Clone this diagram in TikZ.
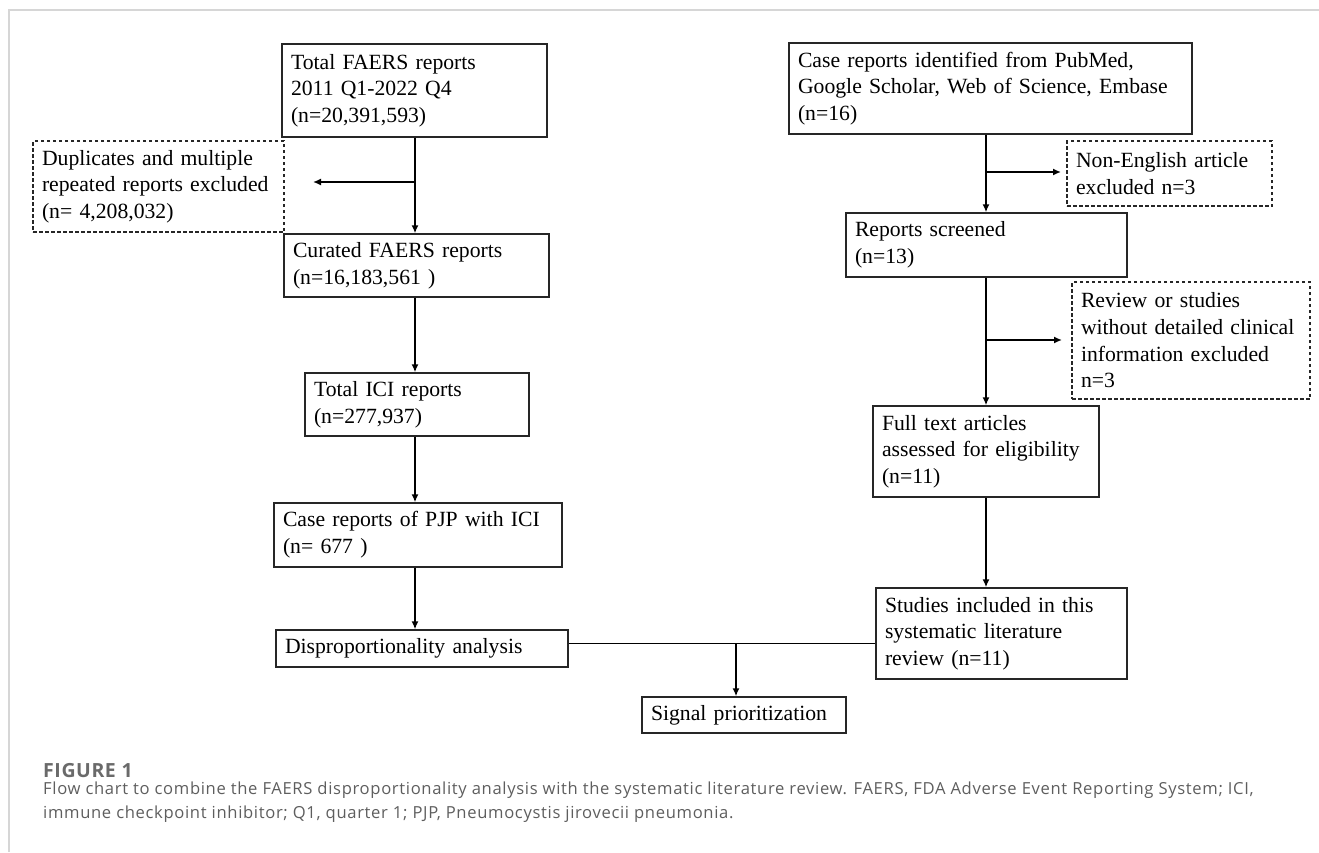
\documentclass[tikz,border=0pt]{standalone}
\usepackage{fontspec}
\setmainfont{Liberation Serif}
\newfontfamily\capfont[LetterSpace=4]{Open Sans}
\newfontfamily\figfont[LetterSpace=3]{Open Sans}
\usetikzlibrary{arrows.meta}
\definecolor{capgrey}{HTML}{5E5E5E}
\definecolor{figgrey}{HTML}{6A6A6A}
\definecolor{framegrey}{HTML}{D6D6D6}
\tikzset{
  x=1pt, y=-1pt,
  boxbase/.style={draw=black!85, line width=1.4pt, inner xsep=9pt, inner ysep=0pt,
     align=left, font=\fontsize{21.7}{26.7}\selectfont, anchor=center},
  solidbox/.style={boxbase},
  dashbox/.style={boxbase, line width=1.1pt, dash pattern=on 3.5pt off 2.5pt},
  arr/.style={line width=1.5pt, -{Latex[length=8pt,width=7pt]}},
  ln/.style={line width=1.5pt},
  captext/.style={anchor=base west, inner sep=0pt, font=\capfont\fontsize{16.6}{22}\selectfont, text=capgrey},
}
\newcommand{\bx}[7]{% style, name, cx, cy, w, h, text
  \node[#1, minimum width=#5pt, minimum height=#6pt, text width=#5pt-18pt] (#2) at (#3,#4) {#7};}
\begin{document}
\begin{tikzpicture}
\useasboundingbox (0,0) rectangle (1319,852);
\draw[framegrey, line width=2pt] (9,852) -- (9,10) -- (1319,10);

% left column
\bx{solidbox}{faers}{414.5}{90.5}{265}{93}{Total FAERS reports\\2011 Q1-2022 Q4\\(n=20,391,593)}
\bx{dashbox}{dup}{158.5}{186.5}{251}{91}{Duplicates and multiple\\repeated reports excluded\\(n= 4,208,032)}
\bx{solidbox}{cur}{416.5}{265.5}{265}{63}{Curated FAERS reports\\(n=16,183,561 )}
\bx{solidbox}{ici}{417}{404.5}{224}{63}{Total ICI reports\\(n=277,937)}
\bx{solidbox}{pjp}{418}{535}{288}{64}{Case reports of PJP with ICI\\(n= 677 )}
\bx{solidbox}{dis}{422}{648.5}{292}{37}{Disproportionality analysis}
\bx{solidbox}{sig}{744}{715}{204}{36}{Signal prioritization}

% right column
\bx{solidbox}{case}{990.5}{88.5}{403}{91}{Case reports identified from PubMed,\\Google Scholar, Web of Science, Embase\\(n=16)}
\bx{dashbox}{noneng}{1169.5}{173.5}{205}{65}{Non-English article\\excluded n=3}
\bx{solidbox}{scr}{986.5}{245}{281}{64}{Reports screened\\(n=13)}
\bx{dashbox}{rev}{1191}{340.5}{238}{117}{Review or studies\\without detailed clinical\\information excluded\\n=3}
\bx{solidbox}{full}{986}{451.5}{226}{91}{Full text articles\\assessed for eligibility\\(n=11)}
\bx{solidbox}{stud}{1001.5}{633.5}{251}{91}{Studies included in this\\systematic literature\\review (n=11)}

% trunks and branch points
\coordinate (tL) at (415,0);
\coordinate (tR) at (986,0);
\coordinate (b1) at (415,182);
\coordinate (b1end) at (313,182);
\coordinate (b2) at (986,172);
\coordinate (b2end) at (1061,172);
\coordinate (b3) at (986,340);
\coordinate (b3end) at (1062,340);
\coordinate (J) at (736,643.5);

\draw[arr] (faers.south -| tL) -- (cur.north -| tL);
\draw[arr] (b1) -- (b1end);
\draw[arr] (cur.south -| tL) -- (ici.north -| tL);
\draw[arr] (ici.south -| tL) -- (pjp.north -| tL);
\draw[arr] (pjp.south -| tL) -- (dis.north -| tL);

\draw[arr] (case.south -| tR) -- (scr.north -| tR);
\draw[arr] (b2) -- (b2end);
\draw[arr] (scr.south -| tR) -- (full.north -| tR);
\draw[arr] (b3) -- (b3end);
\draw[arr] (full.south -| tR) -- (stud.north -| tR);

\draw[ln] (J -| dis.east) -- (J -| stud.west);
\draw[arr] (J) -- (J |- sig.north);

% caption
\node[anchor=base west, inner sep=0pt, font=\figfont\bfseries\fontsize{19.5}{22}\selectfont, text=figgrey] (figlab) at (43,777) {FIGURE 1};
\node[captext] (cap1) at (43,794) {Flow chart to combine the FAERS disproportionality analysis with the systematic literature review. FAERS, FDA Adverse Event Reporting System; ICI,};
\node[captext] (cap2) at (43,818) {immune checkpoint inhibitor; Q1, quarter 1; PJP, Pneumocystis jirovecii pneumonia.};
\end{tikzpicture}
\end{document}
